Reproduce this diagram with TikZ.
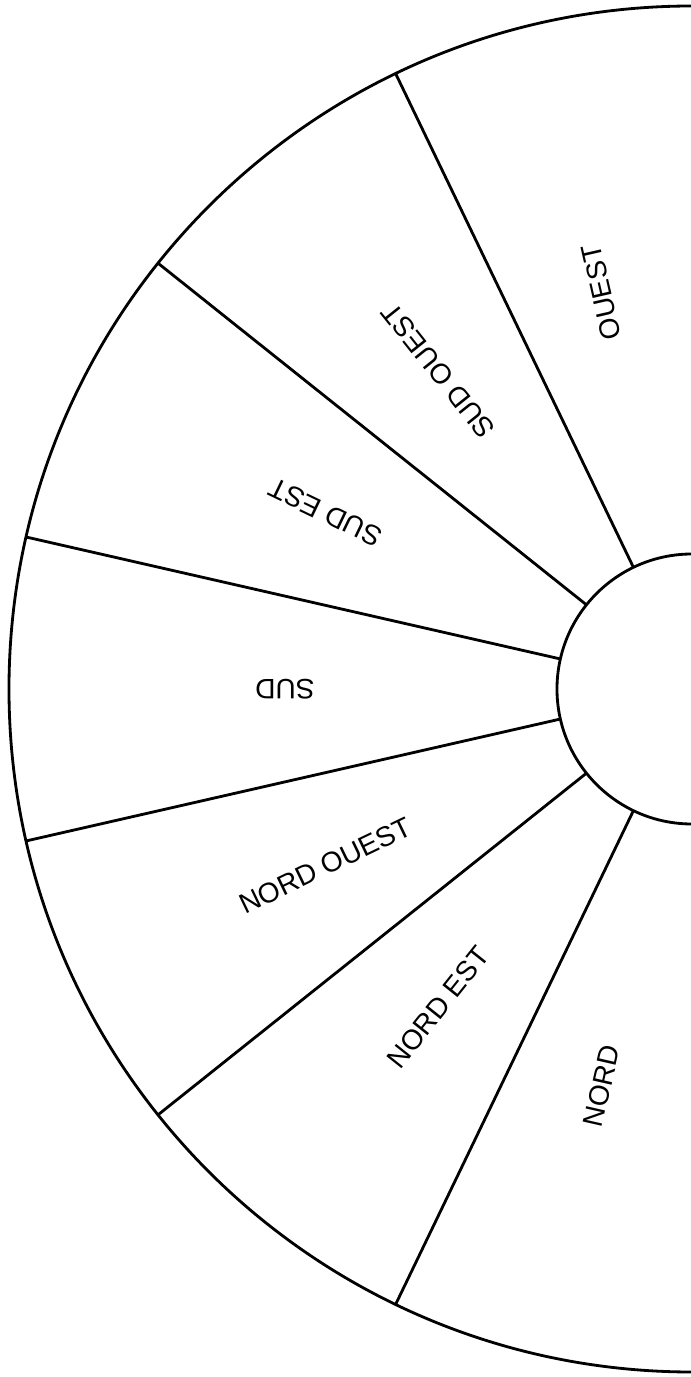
\documentclass[tikz,border=0pt]{standalone}
\usepackage{fontspec}
\setmainfont{Liberation Sans}
\usetikzlibrary{positioning}

\begin{document}
\begin{tikzpicture}[
  every node/.style={font=\fontsize{8}{9.6}\selectfont, align=center, inner sep=0pt},
  rim/.style={draw, line width=0.8pt},
  spoke/.style={draw, line width=0.8pt}
]
\useasboundingbox (-6.92,-6.88) rectangle (-0.01,6.89);
% outer and inner half circles
\draw[rim] (0,6.83) arc[start angle=90, end angle=270, radius=6.83];
\draw[rim] (0,1.35) arc[start angle=90, end angle=270, radius=1.35];
% spokes
\foreach \k in {1,...,6}
  \draw[spoke] ({90+\k*180/7}:1.35) -- ({90+\k*180/7}:6.83);
% upper labels
\foreach \k/\txt in {0/OUEST,1/SUD OUEST,2/SUD EST,3/SUD}
  \node[rotate={90+(\k+0.5)*180/7}] (lbl\k) at ({90+(\k+0.5)*180/7}:4.07) {\txt};
% lower labels
\foreach \k/\txt in {4/NORD OUEST,5/NORD EST,6/NORD}
  \node[rotate={(\k+0.5)*180/7-90}] (lbl\k) at ({90+(\k+0.5)*180/7}:4.07) {\txt};
\end{tikzpicture}
\end{document}
